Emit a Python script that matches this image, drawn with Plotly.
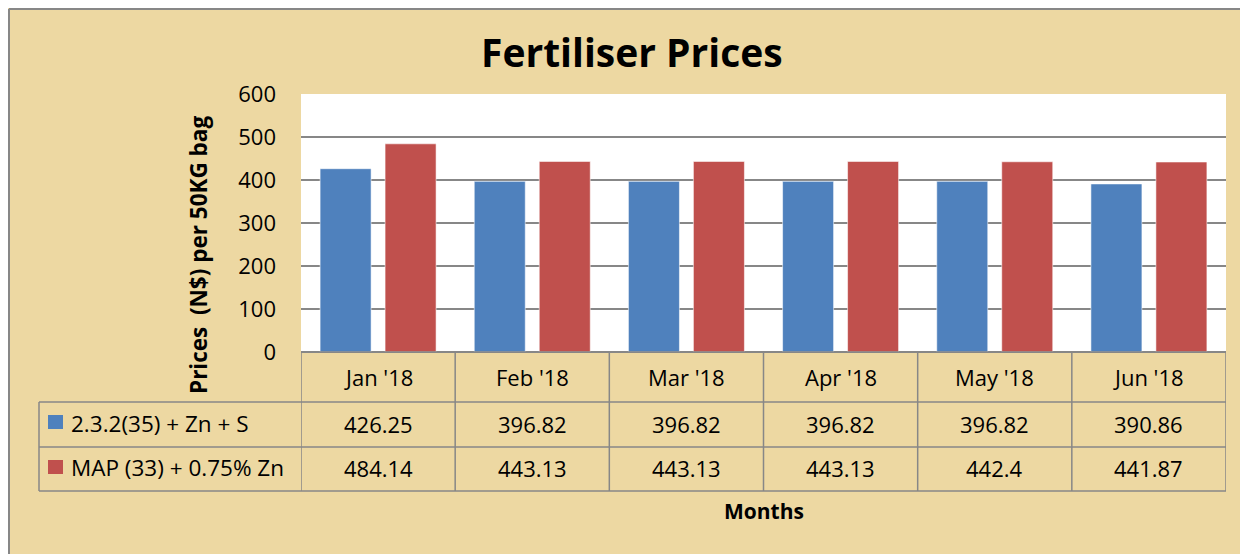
import plotly.graph_objects as go

# ---- data ----
months = ["Jan '18", "Feb '18", "Mar '18", "Apr '18", "May '18", "Jun '18"]
series_names = ["2.3.2(35) + Zn + S", "MAP (33) + 0.75% Zn"]
s1_values = [426.25, 396.82, 396.82, 396.82, 396.82, 390.86]
s2_values = [484.14, 443.13, 443.13, 443.13, 442.4, 441.87]
s1_labels = ["426.25", "396.82", "396.82", "396.82", "396.82", "390.86"]
s2_labels = ["484.14", "443.13", "443.13", "443.13", "442.4", "441.87"]
y_ticks = [0, 100, 200, 300, 400, 500, 600]

# ---- layout geometry (page pixels; the page body adds an 8px offset) ----
OFF = 8
W, H = 1248 - OFF, 554 - OFF
L, R, T, B = 301, 1226, 94, 352  # plot area in page pixels
def px(x):
    return (x - L) / (R - L)
def py(y):
    return (B - y) / (B - T)

BLUE = "#4F81BD"
RED = "#C0504D"
GRID = "#878787"
BG = "#EDD8A2"
FONT = "Open Sans"

fig = go.Figure()
fig.add_trace(go.Bar(x=months, y=s1_values, name=series_names[0],
                     marker=dict(color=BLUE, line=dict(color="rgba(255,255,255,0.55)", width=1))))
fig.add_trace(go.Bar(x=months, y=s2_values, name=series_names[1],
                     marker=dict(color=RED, line=dict(color="rgba(255,255,255,0.55)", width=1))))

shapes = []
# frame border
shapes.append(dict(type="line", xref="paper", yref="paper", x0=px(OFF + 1), x1=px(OFF + 1), y0=py(OFF + 1), y1=py(560),
                   line=dict(color=GRID, width=2)))
shapes.append(dict(type="line", xref="paper", yref="paper", x0=px(OFF + 1), x1=px(1260), y0=py(OFF + 1), y1=py(OFF + 1),
                   line=dict(color=GRID, width=2)))

# data table
row_y = [352, 402, 447, 491]
for i, yy in enumerate(row_y):
    if i == 0:
        shapes.append(dict(type="line", xref="x", yref="paper", x0=-0.5, x1=len(months) - 0.5,
                           y0=py(yy), y1=py(yy), line=dict(color=GRID, width=1.5)))
    else:
        shapes.append(dict(type="line", xref="paper", yref="paper", x0=px(39), x1=1,
                           y0=py(yy), y1=py(yy), line=dict(color=GRID, width=1.5)))
for k in range(len(months) + 1):
    shapes.append(dict(type="line", xref="x", yref="paper", x0=k - 0.5, x1=k - 0.5,
                       y0=py(352), y1=py(491), line=dict(color=GRID, width=1.5)))
shapes.append(dict(type="line", xref="paper", yref="paper", x0=px(39), x1=px(39),
                   y0=py(402), y1=py(491), line=dict(color=GRID, width=1.5)))
# legend keys
for color, (ya, yb) in zip([BLUE, RED], [(415, 429), (460, 474)]):
    shapes.append(dict(type="rect", xref="paper", yref="paper", x0=px(48), x1=px(63),
                       y0=py(yb), y1=py(ya), fillcolor=color, line=dict(width=0)))

ann = []
ann.append(dict(text="<b>Fertiliser Prices</b>", xref="paper", yref="paper", x=px(632), y=py(52),
                xanchor="center", yanchor="middle", showarrow=False,
                font=dict(family=FONT, size=39, color="black")))
ann.append(dict(text="<b>Prices  (N$) per 50KG bag</b>", xref="paper", yref="paper", x=px(198), y=py(255),
                xanchor="center", yanchor="middle", showarrow=False, textangle=-90,
                font=dict(family=FONT, size=22.5, color="black")))
ann.append(dict(text="<b>Months</b>", xref="paper", yref="paper", x=px(764), y=py(511),
                xanchor="center", yanchor="middle", showarrow=False,
                font=dict(family=FONT, size=21, color="black")))
for m, a, b in zip(months, s1_labels, s2_labels):
    ann.append(dict(text=m, xref="x", yref="paper", x=m, y=py(377), xanchor="center", yanchor="middle",
                    showarrow=False, font=dict(family=FONT, size=22, color="black")))
    ann.append(dict(text=a, xref="x", yref="paper", x=m, y=py(424), xanchor="center", yanchor="middle",
                    showarrow=False, font=dict(family=FONT, size=22, color="black")))
    ann.append(dict(text=b, xref="x", yref="paper", x=m, y=py(468), xanchor="center", yanchor="middle",
                    showarrow=False, font=dict(family=FONT, size=22, color="black")))
for name, yy in zip(series_names, [423, 467]):
    ann.append(dict(text=name, xref="paper", yref="paper", x=px(69), y=py(yy), xanchor="left", yanchor="middle",
                    showarrow=False, font=dict(family=FONT, size=22.5, color="black")))

fig.update_layout(
    width=W, height=H,
    margin=dict(l=L - OFF, r=W - (R - OFF), t=T - OFF, b=H - (B - OFF), pad=0),
    paper_bgcolor=BG, plot_bgcolor="white",
    barmode="group", bargap=0.157, bargroupgap=0.215,
    showlegend=False,
    shapes=shapes, annotations=ann,
    font=dict(family=FONT, size=22, color="black"),
)
fig.update_xaxes(showticklabels=False, ticks="", showgrid=False, showline=False, zeroline=False,
                 range=[-0.5, len(months) - 0.5], fixedrange=True)
fig.update_yaxes(range=[0, 600], tickvals=y_ticks, showgrid=True, gridcolor=GRID, gridwidth=1.5,
                 zeroline=True, zerolinecolor=GRID, zerolinewidth=1.5, showline=False, ticks="",
                 ticklabelstandoff=24, tickfont=dict(family=FONT, size=22, color="black"), fixedrange=True)

fig.write_html("out.html")
